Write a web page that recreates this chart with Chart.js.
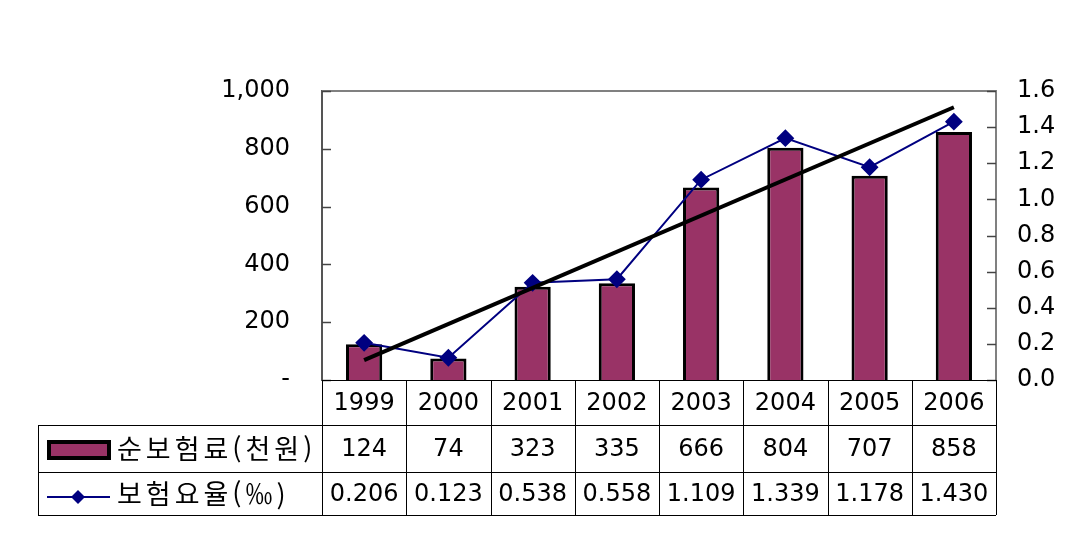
<!DOCTYPE html>
<html lang="ko">
<head>
    <meta charset="UTF-8">
    <title>순보험료 및 보험요율</title>
    <script src="https://cdn.jsdelivr.net/npm/chart.js"></script>
    <style>
        body {
            margin: 0;
            padding: 0;
            background: #fff;
        }
        .chart-box {
            width: 1080px;
            height: 555px;
        }
    </style>
</head>
<body>
    <div class="chart-box">
        <canvas id="premiumChart" width="1080" height="555"></canvas>
    </div>

    <script>
        // 데이터
        const years = ['1999', '2000', '2001', '2002', '2003', '2004', '2005', '2006'];
        const netPremium = [124, 74, 323, 335, 666, 804, 707, 858];
        const premiumRate = [0.206, 0.123, 0.538, 0.558, 1.109, 1.339, 1.178, 1.430];
        const trendRate = [0.11, null, null, null, null, null, null, 1.51];
        const premiumLabel = '순보험료(천원)';
        const rateLabel = '보험요율(‰)';

        const tickFont = { family: "'DejaVu Sans', sans-serif", size: 24 };
        const textFont = "24px 'DejaVu Sans', sans-serif";
        const koFont = "27px 'Noto Sans CJK KR', sans-serif";

        const barColor = '#993366';
        const lineColor = '#000080';

        // 표 + 축 눈금 + 테두리
        const tablePlugin = {
            id: 'dataTable',
            afterDraw(chart) {
                const ctx = chart.ctx;
                const area = chart.chartArea;
                const x = chart.scales.x;
                const yL = chart.scales.y;
                const yR = chart.scales.y1;
                const tableLeft = 38;
                const rowY = [area.bottom, 425, 472, 515];

                ctx.save();

                // 위쪽 테두리
                ctx.strokeStyle = '#808080';
                ctx.lineWidth = 2;
                ctx.beginPath();
                ctx.moveTo(area.left, area.top);
                ctx.lineTo(area.right, area.top);
                ctx.stroke();

                // 안쪽 눈금
                ctx.strokeStyle = '#444';
                ctx.lineWidth = 1.5;
                yL.ticks.forEach(t => {
                    const py = Math.round(yL.getPixelForValue(t.value)) + 0.5;
                    ctx.beginPath();
                    ctx.moveTo(area.left, py);
                    ctx.lineTo(area.left + 9, py);
                    ctx.stroke();
                });
                yR.ticks.forEach(t => {
                    const py = Math.round(yR.getPixelForValue(t.value)) + 0.5;
                    ctx.beginPath();
                    ctx.moveTo(area.right - 9, py);
                    ctx.lineTo(area.right, py);
                    ctx.stroke();
                });

                // 표 선
                ctx.strokeStyle = '#000';
                ctx.lineWidth = 1;
                ctx.beginPath();
                ctx.moveTo(area.left, rowY[0] + 0.5);
                ctx.lineTo(area.right, rowY[0] + 0.5);
                for (let i = 1; i < rowY.length; i++) {
                    ctx.moveTo(tableLeft, rowY[i] + 0.5);
                    ctx.lineTo(area.right, rowY[i] + 0.5);
                }
                ctx.moveTo(tableLeft + 0.5, rowY[1]);
                ctx.lineTo(tableLeft + 0.5, rowY[3]);
                const step = (area.right - area.left) / years.length;
                for (let i = 0; i <= years.length; i++) {
                    const px = Math.round(area.left + step * i) + 0.5;
                    ctx.moveTo(px, rowY[0]);
                    ctx.lineTo(px, rowY[3]);
                }
                ctx.stroke();

                // 표 글자
                ctx.fillStyle = '#000';
                ctx.font = textFont;
                ctx.textAlign = 'center';
                ctx.textBaseline = 'middle';
                years.forEach((yr, i) => {
                    const cx = x.getPixelForValue(i);
                    ctx.fillText(yr, cx, (rowY[0] + rowY[1]) / 2 + 1);
                    ctx.fillText(String(netPremium[i]), cx, (rowY[1] + rowY[2]) / 2 + 1);
                    ctx.fillText(premiumRate[i].toFixed(3), cx, (rowY[2] + rowY[3]) / 2 + 1);
                });

                // 범례
                ctx.fillStyle = barColor;
                ctx.fillRect(49, 442, 60, 16);
                ctx.strokeStyle = '#000';
                ctx.lineWidth = 4;
                ctx.strokeRect(49, 442, 60, 16);

                ctx.strokeStyle = lineColor;
                ctx.lineWidth = 2;
                ctx.beginPath();
                ctx.moveTo(47, 497);
                ctx.lineTo(110, 497);
                ctx.stroke();
                ctx.fillStyle = lineColor;
                ctx.beginPath();
                ctx.moveTo(78, 490);
                ctx.lineTo(85, 497);
                ctx.lineTo(78, 504);
                ctx.lineTo(71, 497);
                ctx.closePath();
                ctx.fill();

                ctx.fillStyle = '#000';
                ctx.font = koFont;
                ctx.textAlign = 'left';
                ctx.letterSpacing = '4px';
                ctx.fillText(premiumLabel, 117, (rowY[1] + rowY[2]) / 2);
                ctx.fillText(rateLabel, 117, (rowY[2] + rowY[3]) / 2);

                ctx.restore();
            }
        };

        const ctx = document.getElementById('premiumChart').getContext('2d');
        new Chart(ctx, {
            data: {
                labels: years,
                datasets: [
                    {
                        type: 'line',
                        label: 'trend',
                        data: trendRate,
                        yAxisID: 'y1',
                        borderColor: '#000',
                        borderWidth: 4,
                        pointRadius: 0,
                        spanGaps: true,
                        order: 0
                    },
                    {
                        type: 'line',
                        label: rateLabel,
                        data: premiumRate,
                        yAxisID: 'y1',
                        borderColor: lineColor,
                        borderWidth: 2,
                        pointStyle: 'rectRot',
                        pointRadius: 7.5,
                        pointBackgroundColor: lineColor,
                        pointBorderColor: lineColor,
                        order: 1
                    },
                    {
                        type: 'bar',
                        label: premiumLabel,
                        data: netPremium,
                        yAxisID: 'y',
                        backgroundColor: barColor,
                        borderColor: '#000',
                        borderWidth: 3,
                        barPercentage: 0.43,
                        categoryPercentage: 1,
                        order: 2
                    }
                ]
            },
            options: {
                responsive: false,
                animation: false,
                layout: {
                    padding: { top: 91, bottom: 175, left: 0, right: 0 }
                },
                plugins: {
                    legend: { display: false },
                    tooltip: { enabled: false }
                },
                scales: {
                    x: {
                        display: false,
                        offset: true
                    },
                    y: {
                        position: 'left',
                        min: 0,
                        max: 1000,
                        afterFit: s => { s.width = 322; },
                        grid: { display: false, drawTicks: false },
                        border: { display: true, color: '#555', width: 2 },
                        ticks: {
                            stepSize: 200,
                            padding: 32,
                            color: '#000',
                            font: tickFont,
                            callback: v => v === 0 ? '-' : v.toLocaleString('en-US')
                        }
                    },
                    y1: {
                        position: 'right',
                        min: 0,
                        max: 1.6,
                        afterFit: s => { s.width = 84; },
                        grid: { display: false, drawTicks: false },
                        border: { display: true, color: '#808080', width: 2 },
                        ticks: {
                            stepSize: 0.2,
                            padding: 21,
                            color: '#000',
                            font: tickFont,
                            callback: v => v.toFixed(1)
                        }
                    }
                }
            },
            plugins: [tablePlugin]
        });
    </script>
</body>
</html>
